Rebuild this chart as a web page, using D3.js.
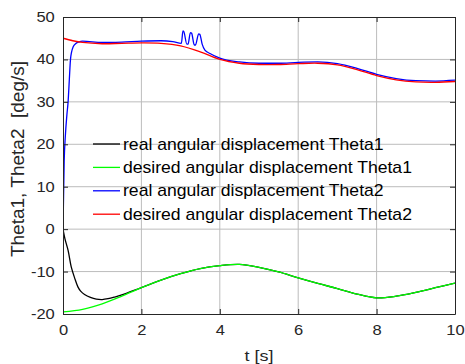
<!DOCTYPE html>
<html>
<head>
<meta charset="utf-8">
<script src="https://cdn.jsdelivr.net/npm/d3@7"></script>
<style>
  body { margin: 0; background: #fff; }
  svg { display: block; font-family: "Liberation Sans", Arial, sans-serif; }
</style>
</head>
<body>
<script>
// --- data ---
var tTheta1Real = [0, 0.05, 0.13, 0.21, 0.3, 0.38, 0.45, 0.55, 0.7, 0.85, 1.0, 1.15, 1.32, 1.5, 1.66, 2, 2.5, 3, 3.5, 4, 4.5, 5, 5.5, 6, 6.5, 7, 7.5, 8, 8.5, 9, 9.5, 10];
var theta1Real = [0, -2.3, -5.0, -8.9, -11.6, -13.6, -14.6, -15.4, -16.1, -16.5, -16.6, -16.4, -16.0, -15.5, -14.95, -13.8, -12.0, -10.5, -9.3, -8.6, -8.3, -9.0, -10.1, -11.5, -12.8, -14.0, -15.3, -16.2, -15.8, -14.9, -13.8, -12.7];

var tTheta1Desired = [0, 0.5, 1, 1.5, 2, 2.5, 3, 3.5, 4, 4.5, 5, 5.5, 6, 6.5, 7, 7.5, 8, 8.5, 9, 9.5, 10];
var theta1Desired = [-19.5, -18.9, -17.6, -15.8, -13.8, -12.0, -10.5, -9.3, -8.6, -8.3, -9.0, -10.1, -11.5, -12.8, -14.0, -15.3, -16.2, -15.8, -14.9, -13.8, -12.7];

var tTheta2Real = [0, 0.03, 0.06, 0.1, 0.13, 0.16, 0.19, 0.22, 0.26, 0.32, 0.4, 0.5, 1.0, 1.5, 2.0, 2.5, 2.8, 3.02, 3.06, 3.08, 3.16, 3.19, 3.25, 3.28, 3.35, 3.38, 3.46, 3.49, 3.55, 3.62, 3.75, 4.0, 4.5, 5, 5.5, 6, 6.5, 7, 7.5, 8, 8.5, 9, 9.5, 10];
var theta2Real = [0, 16, 22, 27, 30, 35, 39.9, 41.8, 43.0, 43.7, 44.1, 44.3, 44.0, 44.1, 44.3, 44.4, 44.2, 43.8, 46.7, 46.6, 43.6, 43.6, 46.3, 46.2, 43.4, 43.4, 46.0, 45.9, 43.6, 42.2, 41.4, 40.3, 39.4, 39.1, 39.1, 39.3, 39.4, 39.0, 37.9, 36.5, 35.5, 35.0, 34.9, 35.1];

var tTheta2Desired = [0, 0.25, 0.5, 1, 1.5, 2, 2.5, 3, 3.5, 4, 4.5, 5, 5.5, 6, 6.5, 7, 7.5, 8, 8.5, 9, 9.5, 10];
var theta2Desired = [45.0, 44.4, 44.0, 43.7, 43.8, 43.9, 43.8, 43.2, 41.8, 40.0, 39.1, 38.8, 38.8, 39.0, 39.1, 38.7, 37.6, 36.2, 35.2, 34.7, 34.6, 34.8];

var xTicks = [0, 2, 4, 6, 8, 10];
var yTicks = [-20, -10, 0, 10, 20, 30, 40, 50];

var seriesNames = [
    "real angular displacement Theta1",
    "desired angular displacement Theta1",
    "real angular displacement Theta2",
    "desired angular displacement Theta2"
];
var seriesColors = ["#000000", "#00ff00", "#0000ff", "#ff0000"];

// --- layout ---
var width = 465, height = 364;
var plotLeft = 63, plotRight = 455, plotTop = 17, plotBottom = 314;

var svg = d3.select("body").append("svg")
    .attr("width", width)
    .attr("height", height);

var x = d3.scaleLinear().domain([0, 10]).range([plotLeft, plotRight]);
var y = d3.scaleLinear().domain([-20, 50]).range([plotBottom, plotTop]);

// grid
var grid = svg.append("g").attr("class", "grid");
grid.selectAll(".gx").data(xTicks.slice(1, -1)).enter().append("line")
    .attr("x1", function (d) { return x(d); }).attr("x2", function (d) { return x(d); })
    .attr("y1", plotTop).attr("y2", plotBottom)
    .attr("stroke", "#bcbcbc").attr("stroke-width", 1);
grid.selectAll(".gy").data(yTicks.slice(1, -1)).enter().append("line")
    .attr("y1", function (d) { return y(d); }).attr("y2", function (d) { return y(d); })
    .attr("x1", plotLeft).attr("x2", plotRight)
    .attr("stroke", "#bcbcbc").attr("stroke-width", 1);

// lines
svg.append("clipPath").attr("id", "clip")
    .append("rect").attr("x", plotLeft).attr("y", plotTop)
    .attr("width", plotRight - plotLeft).attr("height", plotBottom - plotTop);

function pairs(ts, vs) {
    return ts.map(function (t, i) { return [t, vs[i]]; });
}

var smooth = d3.line()
    .x(function (d) { return x(d[0]); })
    .y(function (d) { return y(d[1]); })
    .curve(d3.curveCatmullRom.alpha(0.5));
var sharp = d3.line()
    .x(function (d) { return x(d[0]); })
    .y(function (d) { return y(d[1]); })
    .curve(d3.curveMonotoneX);

var series = [
    {data: pairs(tTheta1Real, theta1Real), gen: smooth},
    {data: pairs(tTheta1Desired, theta1Desired), gen: smooth},
    {data: pairs(tTheta2Real, theta2Real), gen: sharp},
    {data: pairs(tTheta2Desired, theta2Desired), gen: smooth}
];

var lines = svg.append("g").attr("clip-path", "url(#clip)");
series.forEach(function (s, i) {
    lines.append("path")
        .attr("d", s.gen(s.data))
        .attr("fill", "none")
        .attr("stroke", seriesColors[i])
        .attr("stroke-width", 1.3);
});

// axes (ticks inward, box all round)
var axisColor = "#262626";
var xAxis = svg.append("g").attr("transform", "translate(0," + plotBottom + ")")
    .call(d3.axisBottom(x).tickValues(xTicks).tickSizeInner(-5).tickSizeOuter(0).tickPadding(11));
var xTop = svg.append("g").attr("transform", "translate(0," + plotTop + ")")
    .call(d3.axisTop(x).tickValues(xTicks).tickSizeInner(-5).tickSizeOuter(0).tickFormat(""));
var yAxis = svg.append("g").attr("transform", "translate(" + plotLeft + ",0)")
    .call(d3.axisLeft(y).tickValues(yTicks).tickSizeInner(-5).tickSizeOuter(0).tickPadding(7));
var yRight = svg.append("g").attr("transform", "translate(" + plotRight + ",0)")
    .call(d3.axisRight(y).tickValues(yTicks).tickSizeInner(-5).tickSizeOuter(0).tickFormat(""));

[xAxis, xTop, yAxis, yRight].forEach(function (g) {
    g.select(".domain").attr("stroke", axisColor).attr("stroke-width", 1);
    g.selectAll(".tick line").attr("stroke", axisColor);
    g.selectAll(".tick text")
        .attr("fill", axisColor)
        .attr("font-size", 14)
        .attr("font-family", "Liberation Sans, Arial, sans-serif")
        .attr("transform", "scale(1.18,1)");
});
yAxis.selectAll(".tick text").text(function (d) { return d; });

// axis labels
svg.append("text")
    .attr("transform", "translate(259,361) scale(1.2,1)")
    .attr("text-anchor", "middle")
    .attr("font-size", 15)
    .attr("fill", axisColor)
    .text("t [s]");

svg.append("text")
    .attr("transform", "translate(24,159) rotate(-90)")
    .attr("text-anchor", "middle")
    .attr("font-size", 19)
    .attr("fill", axisColor)
    .attr("xml:space", "preserve")
    .text("Theta1, Theta2  [deg/s]");

// legend (no box)
var legend = svg.append("g");
seriesNames.forEach(function (name, i) {
    var cy = 144 + i * 23.4;
    legend.append("line")
        .attr("x1", 93).attr("x2", 120)
        .attr("y1", cy).attr("y2", cy)
        .attr("stroke", seriesColors[i]).attr("stroke-width", 1.3);
    legend.append("text")
        .attr("transform", "translate(123," + (cy + 5.5) + ") scale(1.1,1)")
        .attr("font-size", 16)
        .attr("fill", "#000")
        .text(name);
});
</script>
</body>
</html>
